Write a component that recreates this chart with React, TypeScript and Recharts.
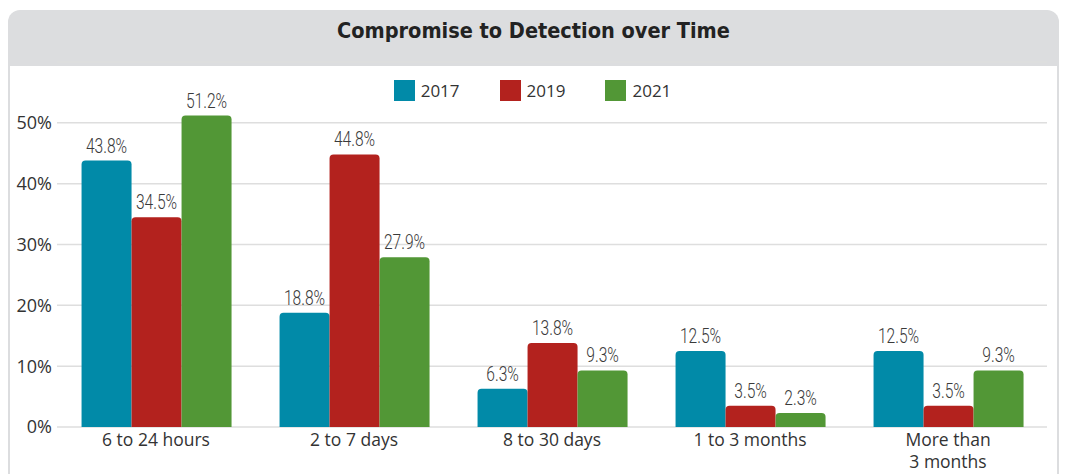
import React from "react";
import { BarChart, Bar, XAxis, YAxis, CartesianGrid, LabelList } from "recharts";

const categories = ["6 to 24 hours", "2 to 7 days", "8 to 30 days", "1 to 3 months", "More than\n3 months"];
const values2017 = [43.8, 18.8, 6.3, 12.5, 12.5];
const values2019 = [34.5, 44.8, 13.8, 3.5, 3.5];
const values2021 = [51.2, 27.9, 9.3, 2.3, 9.3];
const yTicks = [0, 10, 20, 30, 40, 50];
const seriesNames = ["2017", "2019", "2021"];
const seriesColors = ["#018aa8", "#b3221e", "#529736"];

const data = categories.map((c, i) => ({
  name: c,
  y2017: values2017[i],
  y2019: values2019[i],
  y2021: values2021[i],
}));

const TICK_FONT = "'Open Sans', 'Noto Sans', sans-serif";

const XTick = (props: any) => {
  const { x, y, payload } = props;
  const lines = String(payload.value).split("\n");
  return (
    <g transform={`translate(${x},${y})`}>
      {lines.map((l, i) => (
        <text key={i} x={0} y={i * 22} dy={11} textAnchor="middle" fill="#333" fontSize={17.5} fontFamily={TICK_FONT}>
          {l}
        </text>
      ))}
    </g>
  );
};

const BarLabel = (props: any) => {
  const { x, y, width, value } = props;
  const cx = Number(x) + Number(width) / 2;
  const ty = Number(y) - 8;
  return (
    <text transform={`translate(${cx},${ty}) scale(0.78,1)`} textAnchor="middle" fill="#3a3a3a" fontSize={20} fontWeight={300} fontFamily="Roboto, sans-serif">
      {`${Number(value).toFixed(1)}%`}
    </text>
  );
};

export default function App() {
  return (
    <div style={{ position: "absolute", left: 0, top: 0, width: 1065, height: 474, background: "#fff", overflow: "hidden" }}>
      <div style={{ position: "absolute", left: 8, top: 10, width: 1051, height: 480, background: "#dcdddf", borderRadius: 12 }} />
      <div style={{ position: "absolute", left: 10, top: 66, width: 1047, height: 420, background: "#fff" }} />
      <div style={{ position: "absolute", left: 8, top: 18, width: 1051, textAlign: "center", fontFamily: "'DejaVu Sans Condensed', 'Liberation Sans Narrow', sans-serif", fontWeight: "bold", fontSize: 21.5, color: "#222" }}>
        Compromise to Detection over Time
      </div>
      <div style={{ position: "absolute", left: 0, top: 79, width: 1065, display: "flex", justifyContent: "center", gap: 40, fontFamily: TICK_FONT, fontSize: 17, color: "#333" }}>
        {seriesNames.map((t, i) => (
          <div key={t} style={{ display: "flex", alignItems: "center" }}>
            <span style={{ display: "inline-block", width: 21, height: 21, background: seriesColors[i], marginRight: 6 }} />
            <span>{t}</span>
          </div>
        ))}
      </div>
      <div style={{ position: "absolute", left: 0, top: 0 }}>
        <BarChart width={1065} height={474} data={data} margin={{ top: 62, right: 18, bottom: 7, left: 7 }} barCategoryGap="12.4%" barGap={0}>
          <CartesianGrid vertical={false} stroke="#dedede" strokeWidth={1.5} />
          <XAxis dataKey="name" axisLine={false} tickLine={false} height={40} tick={<XTick />} interval={0} />
          <YAxis domain={[0, 60]} ticks={yTicks} width={50} axisLine={false} tickLine={false} tickFormatter={(v) => `${v}%`} tick={{ fill: "#333", fontSize: 18, fontFamily: TICK_FONT, dx: 3 }} />
          <Bar dataKey="y2017" name={seriesNames[0]} fill={seriesColors[0]} radius={[4, 4, 0, 0]} isAnimationActive={false}>
            <LabelList dataKey="y2017" content={<BarLabel />} />
          </Bar>
          <Bar dataKey="y2019" name={seriesNames[1]} fill={seriesColors[1]} radius={[4, 4, 0, 0]} isAnimationActive={false}>
            <LabelList dataKey="y2019" content={<BarLabel />} />
          </Bar>
          <Bar dataKey="y2021" name={seriesNames[2]} fill={seriesColors[2]} radius={[4, 4, 0, 0]} isAnimationActive={false}>
            <LabelList dataKey="y2021" content={<BarLabel />} />
          </Bar>
        </BarChart>
      </div>
    </div>
  );
}
